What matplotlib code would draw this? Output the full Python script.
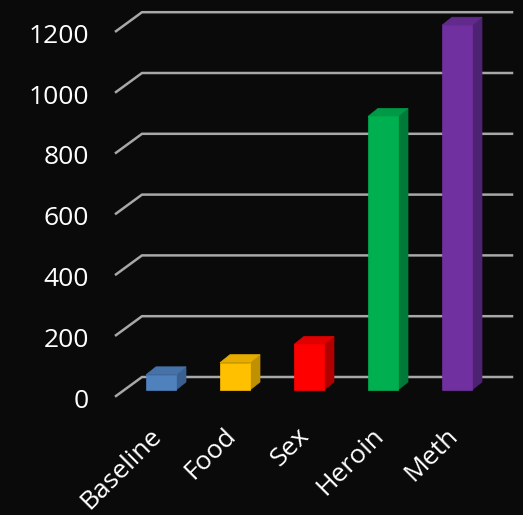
import matplotlib.pyplot as plt
from matplotlib.patches import Polygon

categories = ["Baseline", "Food", "Sex", "Heroin", "Meth"]
values = [50, 90, 150, 900, 1200]
yticks = [0, 200, 400, 600, 800, 1000, 1200]
front_colors = ["#4f81bd", "#ffc000", "#ff0000", "#00b050", "#7030a0"]
top_colors = ["#4672aa", "#e6ac00", "#e00000", "#009a46", "#632a8e"]
side_colors = ["#3b6090", "#bf9000", "#b00000", "#007a38", "#4e2272"]

# pixel layout -> data units
PX_PER_CAT = 74.0
PX_PER_VAL = 0.304
X0_PX = 161.0   # centre of first bar
Y0_PX = 390.0   # front base of bars
W, H = 523, 515

bg = "#0a0a0a"
fig = plt.figure(figsize=(W / 100, H / 100), dpi=100, facecolor=bg)
ax = fig.add_axes([0, 0, 1, 1])
ax.set_facecolor(bg)
ax.set_xlim(-X0_PX / PX_PER_CAT, (W - X0_PX) / PX_PER_CAT)
ax.set_ylim((Y0_PX - H) / PX_PER_VAL, Y0_PX / PX_PER_VAL)
ax.axis("off")

def cx(px):
    return px / PX_PER_CAT

def cy(px):
    return px / PX_PER_VAL

# floor / back wall geometry
front_off = cy(-6)
back_off = cy(13)
x_front = cx(116 - X0_PX)
x_back = cx(142 - X0_PX)
x_right = cx(512 - X0_PX)

for t in yticks:
    ax.plot([x_front, x_back, x_right], [t + front_off, t + back_off, t + back_off],
            color="#a8a8a8", lw=1.8, solid_joinstyle="miter", zorder=1)
    ax.text(cx(89 - X0_PX), t + front_off - cy(5), str(t), ha="right", va="center",
            color="white", fontsize=19, family="Open Sans")

hw = cx(15)
dx = cx(10)
dy = cy(8)
for i, (v, fc, tc, sc) in enumerate(zip(values, front_colors, top_colors, side_colors)):
    front = [(i - hw, 0), (i + hw, 0), (i + hw, v), (i - hw, v)]
    top = [(i - hw, v), (i + hw, v), (i + hw + dx, v + dy), (i - hw + dx, v + dy)]
    side = [(i + hw, 0), (i + hw + dx, dy), (i + hw + dx, v + dy), (i + hw, v)]
    for pts, c in ((side, sc), (top, tc), (front, fc)):
        ax.add_patch(Polygon(pts, closed=True, facecolor=c, edgecolor=c, lw=0.5, zorder=3))

for i, name in enumerate(categories):
    ax.text(i - cx(12), cy(-33), name, rotation=45, rotation_mode="anchor",
            ha="right", va="top", color="white", fontsize=19, family="Open Sans")

fig.savefig("out.png", dpi=100, facecolor=bg)
